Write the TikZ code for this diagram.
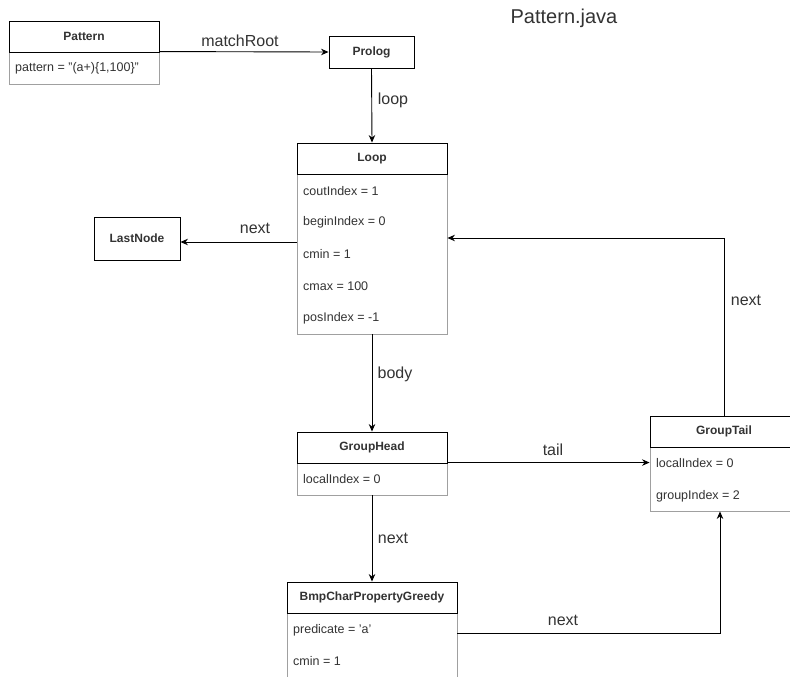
\documentclass[tikz,border=0pt]{standalone}
\usepackage{fontspec}
\setmainfont{Liberation Sans}
\usetikzlibrary{arrows.meta,calc}
\definecolor{txt}{HTML}{333333}
\definecolor{sep}{HTML}{A0A0A0}
\tikzset{
  hdr/.style={draw=black, line width=0.9pt, rectangle, inner sep=0pt, font=\fontsize{12}{14}\selectfont\bfseries, text=txt},
  fld/.style={draw=sep, line width=0.9pt, rectangle, inner sep=0pt},
  ftext/.style={anchor=west, inner sep=0pt, font=\fontsize{12.5}{14}\selectfont, text=txt},
  lbl/.style={inner sep=0pt, font=\fontsize{16}{18}\selectfont, text=txt},
  arr/.style={draw=black, line width=0.9pt, -{Stealth[length=7.5pt,width=6.5pt]}}
}
\begin{document}
\begin{tikzpicture}[x=1pt,y=-1pt]
\useasboundingbox (0,0) rectangle (790,677);
\clip (0,0) rectangle (790,677);
\fill[white] (0,0) rectangle (790,677);

% Pattern
\node[fld, minimum width=150pt, minimum height=32pt] (patf) at (84,68) {};
\node[hdr, minimum width=150pt, minimum height=31pt] (pat) at (84,36.5) {Pattern};
\node[ftext] (pat1) at (15,68) {pattern = \symbol{34}(a+)\{1,100\}\symbol{34}};

% Prolog
\node[hdr, minimum width=85pt, minimum height=32pt] (prolog) at (371.5,52) {Prolog};

% Loop
\node[fld, minimum width=150pt, minimum height=160pt] (loopf) at (372,254) {};
\node[hdr, minimum width=150pt, minimum height=31pt] (loop) at (372,158.5) {Loop};
\node[ftext] (l1) at (303,191) {coutIndex = 1};
\node[ftext] (l2) at (303,222) {beginIndex = 0};
\node[ftext] (l3) at (303,254) {cmin = 1};
\node[ftext] (l4) at (303,286) {cmax = 100};
\node[ftext] (l5) at (303,318) {posIndex = -1};

% LastNode
\node[hdr, minimum width=86pt, minimum height=43pt] (last) at (137,238.5) {LastNode};

% GroupHead
\node[fld, minimum width=150pt, minimum height=32pt] (gheadf) at (372,479) {};
\node[hdr, minimum width=150pt, minimum height=31pt] (ghead) at (372,447.5) {GroupHead};
\node[ftext] (gh1) at (303,479) {localIndex = 0};

% GroupTail
\node[fld, minimum width=148pt, minimum height=64pt] (gtailf) at (724,479) {};
\node[hdr, minimum width=148pt, minimum height=31pt] (gtail) at (724,431.5) {GroupTail};
\node[ftext] (gt1) at (656,463) {localIndex = 0};
\node[ftext] (gt2) at (656,496) {groupIndex = 2};

% BmpCharPropertyGreedy
\node[fld, minimum width=170pt, minimum height=87pt] (bmpf) at (372,656.5) {};
\node[hdr, minimum width=170pt, minimum height=31pt] (bmp) at (372,597.5) {BmpCharPropertyGreedy};
\node[ftext] (b1) at (293,630) {predicate = \symbol{39}a\symbol{39}};
\node[ftext] (b2) at (293,661) {cmin = 1};

% connectors
\draw[arr] (patf.north east) -- (prolog.west);
\draw[arr] (prolog.south) -- (loop.north);
\draw[arr] ([yshift=-3.5pt]last.east -| loopf.west) -- ([yshift=-3.5pt]last.east);
\draw[arr] (gtail.north) |- ([yshift=16pt]loopf.east);
\draw[arr] (loopf.south) -- (ghead.north);
\draw[arr] (gheadf.north east) -- (gheadf.north east -| gtailf.west);
\draw[arr] (gheadf.south) -- (bmp.north);
\draw[arr] ([yshift=-21pt]bmpf.north east) -| ([xshift=-4pt]gtailf.south);

% labels
\node[lbl] (t1) at (240,41) {matchRoot};
\node[lbl] (t2) at (393,100) {loop};
\node[lbl] (t3) at (255,228) {next};
\node[lbl] (t4) at (746,300) {next};
\node[lbl] (t5) at (395,374) {body};
\node[lbl] (t6) at (553,450) {tail};
\node[lbl] (t7) at (393,538) {next};
\node[lbl] (t8) at (563,620) {next};
\node[inner sep=0pt, font=\fontsize{20}{22}\selectfont, text=txt] (title) at (564,18) {Pattern.java};
\end{tikzpicture}
\end{document}
